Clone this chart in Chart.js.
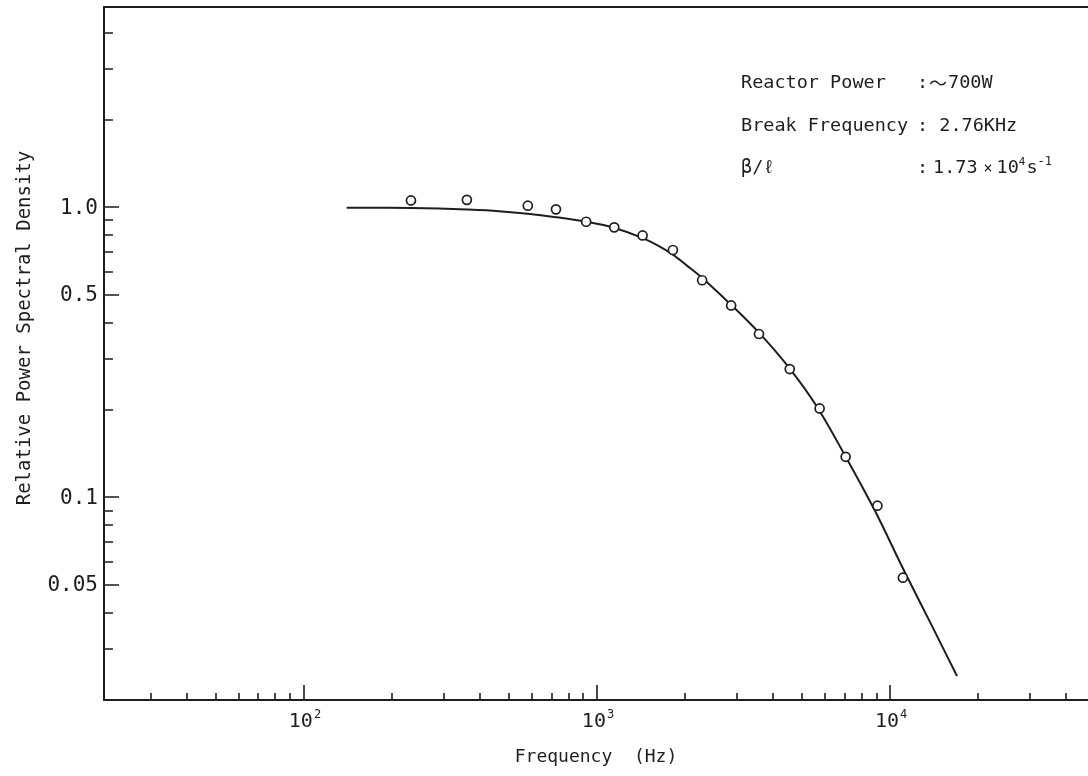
<!DOCTYPE html>
<html>
<head>
<meta charset="utf-8">
<script src="https://cdn.jsdelivr.net/npm/chart.js@4/dist/chart.umd.min.js"></script>
<style>
  html, body { margin: 0; padding: 0; background: #fff; }
  #wrap { width: 1088px; height: 776px; position: relative; }
</style>
</head>
<body>
<div id="wrap"><canvas id="psd"></canvas></div>
<script>
// measured points (Hz, relative PSD)
const measFreq = [232, 360, 581, 725, 919, 1146, 1432, 1817, 2286, 2871, 3573, 4550, 5754, 7060, 9060, 11070];
const measPsd = [1.055, 1.06, 1.012, 0.983, 0.891, 0.852, 0.799, 0.712, 0.560, 0.4585, 0.3654, 0.2767, 0.2024, 0.1379, 0.0935, 0.0528];

// fitted curve
const fitFreq = [140, 180, 232, 289, 360, 463, 581, 725, 918, 1143, 1435, 1628, 1817, 2029, 2283,
  2866, 3572, 4522, 5636, 7022, 8888, 11165, 13801, 16933];
const fitPsd = [0.996, 0.995, 0.994, 0.990, 0.982, 0.969, 0.950, 0.924, 0.891, 0.850, 0.782, 0.734, 0.686, 0.629, 0.5715,
  0.4613, 0.3693, 0.2799, 0.2052, 0.1394, 0.0898, 0.0559, 0.0366, 0.0242];

// axis ticks
const xMajorTicks = [100, 1000, 10000];
const xMajorExp = ['2', '3', '4'];
const xMinorTicks = [30, 40, 50, 60, 70, 80, 90, 200, 300, 400, 500, 600, 700, 800, 900,
  2000, 3000, 4000, 5000, 6000, 7000, 8000, 9000, 20000, 30000, 40000];
const yMajorTicks = [1.0, 0.5, 0.1, 0.05];
const yTickLabels = ['1.0', '0.5', '0.1', '0.05'];
const yMinorTicks = [4, 3, 2, 0.9, 0.8, 0.7, 0.6, 0.4, 0.3, 0.2, 0.09, 0.08, 0.07, 0.06, 0.04, 0.03];

const infoLabels = ['Reactor Power', 'Break Frequency', 'β/ℓ'];

const INK = '#1e1e1e';
const MONO = '"DejaVu Sans Mono", "Liberation Mono", monospace';

const framePlugin = {
  id: 'frame',
  afterDraw(chart) {
    const c = chart.ctx;
    const a = chart.chartArea;
    const xs = chart.scales.x;
    const ys = chart.scales.y;
    c.save();
    c.strokeStyle = INK;
    c.fillStyle = INK;
    c.lineWidth = 2;

    // frame: left, top, bottom (right side runs off the page)
    c.beginPath();
    c.moveTo(a.right + 2, a.top);
    c.lineTo(a.left, a.top);
    c.lineTo(a.left, a.bottom);
    c.lineTo(a.right + 2, a.bottom);
    c.stroke();

    // ticks point inward
    c.lineWidth = 1.6;
    c.beginPath();
    xMinorTicks.forEach(v => {
      const px = Math.round(xs.getPixelForValue(v));
      c.moveTo(px, a.bottom); c.lineTo(px, a.bottom - 7);
    });
    xMajorTicks.forEach(v => {
      const px = Math.round(xs.getPixelForValue(v));
      c.moveTo(px, a.bottom); c.lineTo(px, a.bottom - 15);
    });
    yMinorTicks.forEach(v => {
      const py = Math.round(ys.getPixelForValue(v));
      c.moveTo(a.left, py); c.lineTo(a.left + 9, py);
    });
    yMajorTicks.forEach(v => {
      const py = Math.round(ys.getPixelForValue(v));
      c.moveTo(a.left, py); c.lineTo(a.left + 15, py);
    });
    c.stroke();

    // y tick labels
    c.font = '21px ' + MONO;
    c.textAlign = 'right';
    c.textBaseline = 'middle';
    yMajorTicks.forEach((v, i) => {
      c.fillText(yTickLabels[i], a.left - 6, ys.getPixelForValue(v) + 1);
    });

    // x tick labels 10^n
    xMajorTicks.forEach((v, i) => {
      const px = xs.getPixelForValue(v);
      c.font = '20px ' + MONO;
      c.textAlign = 'center';
      c.textBaseline = 'middle';
      const w = c.measureText('10').width;
      c.fillText('10', px - 3, a.bottom + 22);
      c.font = '12px ' + MONO;
      c.textAlign = 'left';
      c.fillText(xMajorExp[i], px - 3 + w / 2 + 1, a.bottom + 15);
    });

    // axis titles
    c.font = '18px ' + MONO;
    c.textAlign = 'center';
    c.textBaseline = 'middle';
    c.fillText('Frequency  (Hz)', (a.left + a.right) / 2, 757);

    c.save();
    c.translate(25, 328);
    c.rotate(-Math.PI / 2);
    c.font = '19px ' + MONO;
    c.fillText('Relative Power Spectral Density', 0, 0);
    c.restore();

    // info block
    c.font = '18.5px ' + MONO;
    c.textAlign = 'left';
    c.textBaseline = 'middle';
    const rows = [83, 126, 168];
    infoLabels.forEach((t, i) => c.fillText(t, 741, rows[i]));
    c.fillText(':', 917, rows[0]);
    c.font = '18px "Noto Sans CJK JP", ' + MONO;
    c.fillText('〜', 929, rows[0]);
    c.font = '18.5px ' + MONO;
    c.fillText('700W', 948, rows[0]);
    c.fillText(': 2.76KHz', 917, rows[1]);
    c.fillText(':', 917, rows[2]);
    let x = 933;
    c.fillText('1.73', x, rows[2]); x += c.measureText('1.73').width + 6;
    c.font = '15px ' + MONO;
    c.fillText('×', x, rows[2] + 1); x += c.measureText('×').width + 4;
    c.font = '18.5px ' + MONO;
    c.fillText('10', x, rows[2]); x += c.measureText('10').width;
    c.font = '11px ' + MONO;
    c.fillText('4', x, rows[2] - 6); x += c.measureText('4').width + 1;
    c.font = '18.5px ' + MONO;
    c.fillText('s', x, rows[2]); x += c.measureText('s').width;
    c.font = '12px ' + MONO;
    c.fillText('-1', x, rows[2] - 6);

    c.restore();
  }
};

const measPoints = measFreq.map((f, i) => ({ x: f, y: measPsd[i] }));
const fitPoints = fitFreq.map((f, i) => ({ x: f, y: fitPsd[i] }));

new Chart(document.getElementById('psd'), {
  type: 'scatter',
  data: {
    datasets: [{
      label: 'measured',
      data: measPoints,
      showLine: false,
      pointRadius: 4.5,
      pointBorderWidth: 1.7,
      pointBorderColor: INK,
      pointBackgroundColor: '#fff'
    }, {
      label: 'fit',
      data: fitPoints,
      showLine: true,
      pointRadius: 0,
      borderColor: INK,
      borderWidth: 2,
      cubicInterpolationMode: 'monotone'
    }]
  },
  options: {
    responsive: true,
    maintainAspectRatio: false,
    animation: false,
    layout: { autoPadding: false, padding: { left: 104, right: 0, top: 7, bottom: 76 } },
    plugins: {
      legend: { display: false },
      tooltip: { enabled: false }
    },
    scales: {
      x: { type: 'logarithmic', min: 20.8, max: 47400, display: false },
      y: { type: 'logarithmic', min: 0.02, max: 4.9, display: false }
    }
  },
  plugins: [framePlugin]
});
</script>
</body>
</html>
